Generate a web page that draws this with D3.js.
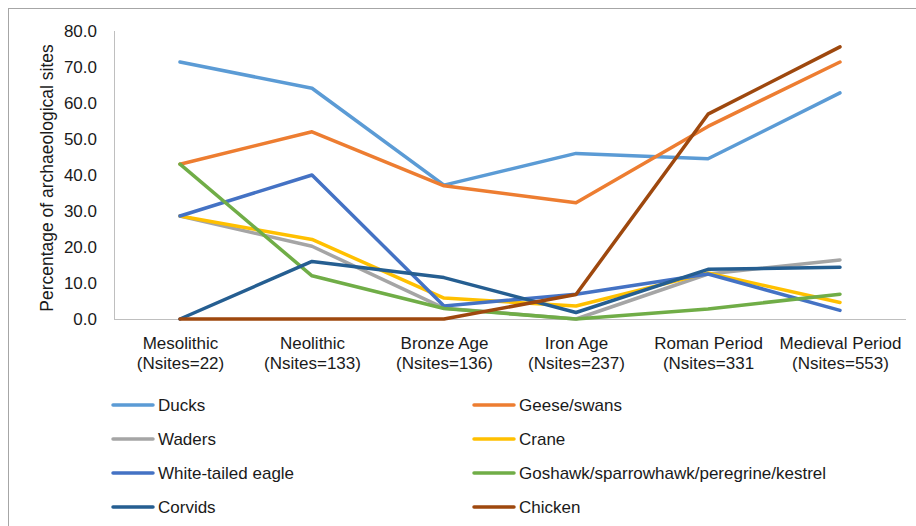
<!DOCTYPE html>
<meta charset="utf-8">
<script src="https://d3js.org/d3.v7.min.js"></script>
<style type="text/css">
body { margin: 0; background: #fff; }
svg { display: block; font-family: "Liberation Sans", Arial, sans-serif; }
.axis path, .axis line { stroke: #bfbfbf; }
.axis text { font-size: 17px; fill: #1a1a1a; }
</style>
<body>
<div id="chartDiv"></div>
</body>
<script>

// periods (x categories), two-line labels
var periods = ['Mesolithic', 'Neolithic', 'Bronze Age', 'Iron Age', 'Roman Period', 'Medieval Period'];
var siteCounts = ['(Nsites=22)', '(Nsites=133)', '(Nsites=136)', '(Nsites=237)', '(Nsites=331', '(Nsites=553)'];

var yTicks = [0, 10, 20, 30, 40, 50, 60, 70, 80];

// percentages
var ducks    = [71.4, 64.1, 37.2, 46.0, 44.5, 62.8];
var geese    = [43.0, 52.0, 37.0, 32.3, 53.5, 71.4];
var waders   = [28.6, 20.2, 3.0, 0.0, 12.5, 16.4];
var crane    = [28.6, 22.1, 5.8, 3.6, 12.8, 4.6];
var eagle    = [28.6, 40.0, 3.6, 6.9, 12.5, 2.4];
var goshawk  = [43.0, 12.0, 2.9, 0.0, 2.8, 6.9];
var corvids  = [0.0, 16.0, 11.5, 1.8, 13.8, 14.4];
var chicken  = [0.0, 0.0, 0.0, 6.8, 56.9, 75.6];

var seriesNames = ['Ducks', 'Geese/swans', 'Waders', 'Crane', 'White-tailed eagle',
                   'Goshawk/sparrowhawk/peregrine/kestrel', 'Corvids', 'Chicken'];
var seriesValues = [ducks, geese, waders, crane, eagle, goshawk, corvids, chicken];
var seriesColors = ['#5B9BD5', '#ED7D31', '#A5A5A5', '#FFC000', '#4472C4', '#70AD47', '#255E91', '#9E480E'];

var series = seriesNames.map(function(n, i) {
    return {name: n, color: seriesColors[i], values: seriesValues[i]};
});

var W = 916, H = 526;
var margin = {top: 31, left: 114};
var width = 906 - margin.left;
var height = 319 - margin.top;

var svg = d3.select('#chartDiv').append('svg')
    .attr('width', W)
    .attr('height', H);

// chart frame (runs off the right / bottom of the picture)
svg.append('rect')
    .attr('x', 8.5).attr('y', 8.5)
    .attr('width', 940).attr('height', 560)
    .attr('fill', 'none')
    .attr('stroke', '#a6a6a6')
    .attr('stroke-width', 1);

var g = svg.append('g')
    .attr('transform', 'translate(' + margin.left + ',' + margin.top + ')');

var xScale = d3.scalePoint()
    .domain(periods)
    .range([0, width])
    .padding(0.5);

var yScale = d3.scaleLinear()
    .domain([0, 80])
    .range([height, 0]);

// y axis
var yAxis = d3.axisLeft(yScale)
    .tickValues(yTicks)
    .tickSize(0)
    .tickPadding(17)
    .tickFormat(d3.format('.1f'));

g.append('g')
    .attr('class', 'y axis')
    .call(yAxis)
    .select('.domain').attr('d', 'M0.5,0V' + height);

// x axis
var xAxis = d3.axisBottom(xScale).tickSize(0).tickFormat('');

var xAxisGroup = g.append('g')
    .attr('class', 'x axis')
    .attr('transform', 'translate(0,' + height + ')')
    .call(xAxis);
xAxisGroup.select('.domain').attr('d', 'M0,0.5H' + width);

xAxisGroup.selectAll('.tick').each(function(d, i) {
    var t = d3.select(this).append('text')
        .attr('text-anchor', 'middle');
    t.append('tspan').attr('x', 0).attr('y', 30).text(periods[i]);
    t.append('tspan').attr('x', 0).attr('y', 50).text(siteCounts[i]);
});

// y axis title
svg.append('text')
    .attr('transform', 'translate(53,178) rotate(-90)')
    .attr('text-anchor', 'middle')
    .style('font-size', '17.5px')
    .attr('fill', '#1a1a1a')
    .text('Percentage of archaeological sites');

// lines
var line = d3.line()
    .x(function(d, i) { return xScale(periods[i]); })
    .y(function(d) { return yScale(d); });

g.selectAll('.seriesLine')
    .data(series)
    .enter().append('path')
    .attr('class', 'seriesLine')
    .attr('d', function(d) { return line(d.values); })
    .attr('fill', 'none')
    .attr('stroke', function(d) { return d.color; })
    .attr('stroke-width', 3.5)
    .attr('stroke-linejoin', 'round')
    .attr('stroke-linecap', 'round');

// legend, two columns
var legend = svg.selectAll('.legendItem')
    .data(series)
    .enter().append('g')
    .attr('class', 'legendItem')
    .attr('transform', function(d, i) {
        var col = i % 2, row = Math.floor(i / 2);
        return 'translate(' + (col === 0 ? 113 : 474) + ',' + (405 + row * 34) + ')';
    });

legend.append('line')
    .attr('x1', 0).attr('x2', 40)
    .attr('y1', 0).attr('y2', 0)
    .attr('stroke', function(d) { return d.color; })
    .attr('stroke-width', 3.5)
    .attr('stroke-linecap', 'round');

legend.append('text')
    .attr('x', 45)
    .attr('dy', '0.35em')
    .attr('fill', '#1a1a1a')
    .style('font-size', '17px')
    .text(function(d) { return d.name; });

</script>
